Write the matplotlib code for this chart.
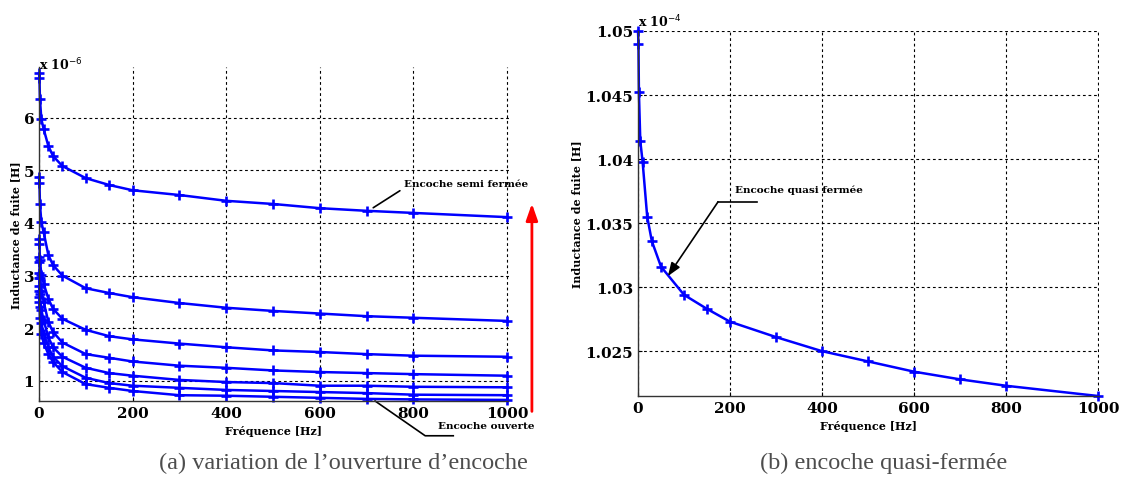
import matplotlib
matplotlib.use("Agg")
import matplotlib.pyplot as plt
from matplotlib.ticker import FixedLocator

# ---------------- data ----------------
freq = [0, 1, 2, 5, 10, 20, 30, 50, 100, 150, 200, 300, 400, 500, 600, 700, 800, 1000]

# (a) leakage inductance, units of 1e-6 H, from semi-closed (top) to open slot (bottom)
L_a1 = [6.84, 6.75, 6.35, 5.97, 5.78, 5.46, 5.27, 5.08, 4.85, 4.72, 4.62, 4.53, 4.42, 4.36, 4.28, 4.23, 4.19, 4.11]
L_a2 = [4.87, 4.75, 4.36, 4.02, 3.82, 3.39, 3.20, 3.00, 2.76, 2.67, 2.59, 2.48, 2.39, 2.33, 2.28, 2.23, 2.20, 2.14]
L_a3 = [3.70, 3.60, 3.30, 3.02, 2.85, 2.56, 2.37, 2.18, 1.97, 1.85, 1.79, 1.71, 1.64, 1.58, 1.55, 1.51, 1.48, 1.46]
L_a4 = [3.35, 3.25, 2.95, 2.70, 2.50, 2.12, 1.93, 1.73, 1.51, 1.44, 1.37, 1.29, 1.25, 1.20, 1.17, 1.15, 1.13, 1.10]
L_a5 = [3.05, 2.95, 2.65, 2.35, 2.15, 1.83, 1.64, 1.46, 1.25, 1.15, 1.10, 1.02, 0.98, 0.96, 0.91, 0.91, 0.89, 0.88]
L_a6 = [2.80, 2.70, 2.40, 2.10, 1.90, 1.64, 1.46, 1.28, 1.06, 0.96, 0.91, 0.87, 0.83, 0.81, 0.79, 0.77, 0.74, 0.73]
L_a7 = [2.60, 2.50, 2.20, 1.90, 1.72, 1.51, 1.36, 1.17, 0.94, 0.87, 0.81, 0.73, 0.72, 0.70, 0.68, 0.66, 0.65, 0.64]
series_a = [L_a1, L_a2, L_a3, L_a4, L_a5, L_a6, L_a7]

# (b) quasi-closed slot, units of 1e-4 H
L_b = [1.0500, 1.0490, 1.0452, 1.0414, 1.0398, 1.0355, 1.0336, 1.0316, 1.0294, 1.0283,
       1.0273, 1.0261, 1.0250, 1.0242, 1.0234, 1.0228, 1.0223, 1.0215]

xticks = [0, 200, 400, 600, 800, 1000]
yticks_a = [1, 2, 3, 4, 5, 6]
yticks_b = [1.025, 1.03, 1.035, 1.04, 1.045, 1.05]
ytick_labels_b = ["1.025", "1.03", "1.035", "1.04", "1.045", "1.05"]

caption_a = "(a) variation de l\u2019ouverture d\u2019encoche"
caption_b = "(b) encoche quasi-ferm\u00e9e"
xlabel = "Fr\u00e9quence [Hz]"
ylabel = "Inductance de fuite [H]"

# ---------------- style ----------------
W, H = 1121, 481
fig = plt.figure(figsize=(W / 100, H / 100), dpi=100)
SERIF = "DejaVu Serif"
BLUE = (0, 0, 1)
mk = dict(marker="+", markersize=7, markeredgewidth=1.9)


def px_rect(x0, y0, x1, y1):
    return [x0 / W, 1 - y1 / H, (x1 - x0) / W, (y1 - y0) / H]


def style_axes(ax):
    for s in ["top", "right"]:
        ax.spines[s].set_visible(False)
    for s in ["left", "bottom"]:
        ax.spines[s].set_color("#333333")
        ax.spines[s].set_linewidth(1.0)
    ax.grid(True, color="black", linestyle=(0, (2.5, 2.5)), linewidth=0.8)
    ax.set_axisbelow(True)
    ax.tick_params(direction="in", length=3, width=0.8, colors="black",
                   labelsize=11)
    for lab in ax.get_xticklabels() + ax.get_yticklabels():
        lab.set_fontfamily(SERIF)
        lab.set_fontweight("bold")
    ax.set_xlabel(xlabel, fontfamily=SERIF, fontweight="bold", fontsize=8, labelpad=4)
    ax.set_ylabel(ylabel, fontfamily=SERIF, fontweight="bold", fontsize=8, labelpad=2)


# ---------------- (a) ----------------
axa = fig.add_axes(px_rect(39, 68, 508.5, 402))
for s in series_a:
    axa.plot(freq, s, color=BLUE, linewidth=1.8, clip_on=False, **mk)
axa.set_xlim(0, 1003)
axa.set_ylim(0.62, 6.96)
axa.xaxis.set_major_locator(FixedLocator(xticks))
axa.yaxis.set_major_locator(FixedLocator(yticks_a))
style_axes(axa)
axa.text(0.0, 0.985, r"x 10$^{-6}$", transform=axa.transAxes, fontfamily=SERIF,
         fontweight="bold", fontsize=9, ha="left", va="bottom")

# annotations (a)
axa.annotate("", xy=(709, 4.26), xytext=(776, 4.64), xycoords="data",
             arrowprops=dict(arrowstyle="-", color="black", lw=1.2),
             annotation_clip=False)
axa.text(780, 4.74, "Encoche semi ferm\u00e9e", fontfamily=SERIF, fontweight="bold",
         fontsize=7.5, ha="left", va="center")
axa.plot([718, 825, 885], [0.62, -0.04, -0.04], color="black", lw=1.2, clip_on=False)
axa.text(853, 0.15, "Encoche ouverte", fontfamily=SERIF, fontweight="bold",
         fontsize=7.5, ha="left", va="center", clip_on=False)
axa.annotate("", xy=(1053, 4.42), xytext=(1053, 0.37), xycoords="data",
             arrowprops=dict(arrowstyle="-|>,head_length=1.0,head_width=0.35",
                             color="red", lw=2), annotation_clip=False)

# ---------------- (b) ----------------
axb = fig.add_axes(px_rect(638, 32, 1099.4, 397))
axb.plot(freq, L_b, color=BLUE, linewidth=1.8, clip_on=False, **mk)
axb.set_xlim(0, 1003)
axb.set_ylim(1.0215, 1.0500)
axb.xaxis.set_major_locator(FixedLocator(xticks))
axb.yaxis.set_major_locator(FixedLocator(yticks_b))
axb.set_yticklabels(ytick_labels_b)
style_axes(axb)
axb.text(0.0, 1.005, r"x 10$^{-4}$", transform=axb.transAxes, fontfamily=SERIF,
         fontweight="bold", fontsize=9, ha="left", va="bottom")

axb.plot([259, 174], [1.03666, 1.03666], color="black", lw=1.2)
axb.annotate("", xy=(65, 1.03086), xytext=(174, 1.03666), xycoords="data",
             arrowprops=dict(arrowstyle="-|>,head_length=0.8,head_width=0.3",
                             color="black", lw=1.2, shrinkA=0, shrinkB=0),
             annotation_clip=False)
axb.text(211, 1.03766, "Encoche quasi ferm\u00e9e", fontfamily=SERIF, fontweight="bold",
         fontsize=7.5, ha="left", va="center")

# ---------------- captions ----------------
fig.text(343 / W, 1 - 463 / H, caption_a, fontfamily="Liberation Serif", fontsize=17.5,
         color="#4d4d4d", ha="center", va="center")
fig.text(884 / W, 1 - 463 / H, caption_b, fontfamily="Liberation Serif", fontsize=17.5,
         color="#4d4d4d", ha="center", va="center")

fig.savefig("out.png", dpi=100)
